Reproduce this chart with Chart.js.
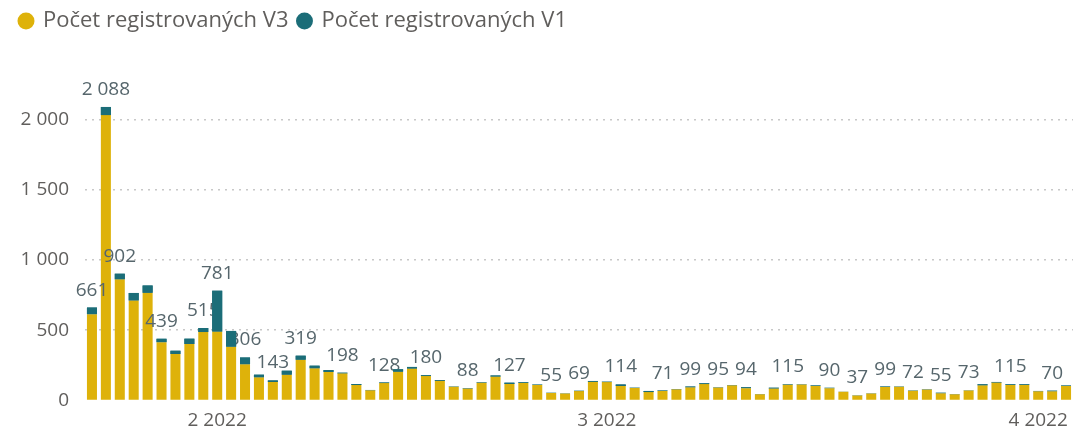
<!DOCTYPE html>
<html>
<head>
<meta charset="utf-8">
<script src="https://cdn.jsdelivr.net/npm/chart.js@4.4.1/dist/chart.umd.min.js"></script>
<style>
  html, body { margin: 0; padding: 0; background: #fff; }
  #wrap { width: 1073px; height: 431px; position: relative; }
</style>
</head>
<body>
<div id="wrap"><canvas id="chart"></canvas></div>
<script>
// dny (kategorie osy x)
const days = [
  '2022-01-23','2022-01-24','2022-01-25','2022-01-26','2022-01-27','2022-01-28','2022-01-29','2022-01-30','2022-01-31',
  '2022-02-01','2022-02-02','2022-02-03','2022-02-04','2022-02-05','2022-02-06','2022-02-07','2022-02-08','2022-02-09','2022-02-10',
  '2022-02-11','2022-02-12','2022-02-13','2022-02-14','2022-02-15','2022-02-16','2022-02-17','2022-02-18','2022-02-19','2022-02-20',
  '2022-02-21','2022-02-22','2022-02-23','2022-02-24','2022-02-25','2022-02-26','2022-02-27','2022-02-28',
  '2022-03-01','2022-03-02','2022-03-03','2022-03-04','2022-03-05','2022-03-06','2022-03-07','2022-03-08','2022-03-09','2022-03-10',
  '2022-03-11','2022-03-12','2022-03-13','2022-03-14','2022-03-15','2022-03-16','2022-03-17','2022-03-18','2022-03-19','2022-03-20',
  '2022-03-21','2022-03-22','2022-03-23','2022-03-24','2022-03-25','2022-03-26','2022-03-27','2022-03-28','2022-03-29','2022-03-30','2022-03-31',
  '2022-04-01','2022-04-02','2022-04-03'
];

// Počet registrovaných V3
const v3 = [
  614, 2030, 862, 712, 766, 415, 331, 402, 487,
  490, 383, 258, 165, 132, 184, 290, 229, 203, 193,
  110, 73, 124, 205, 227, 174, 140, 97, 85, 126,
  170, 118, 125, 111, 54, 50, 67, 133,
  131, 103, 89, 60, 68, 80, 94, 117, 93, 108,
  88, 45, 86, 112, 113, 103, 88, 62, 36, 50,
  96, 97, 70, 78, 52, 45, 72, 108, 128, 111, 111,
  66, 66, 104
];

// Počet registrovaných V1
const v1 = [
  47, 58, 40, 53, 52, 24, 23, 38, 28,
  291, 112, 48, 19, 11, 28, 29, 19, 14, 5,
  7, 2, 4, 17, 12, 6, 6, 2, 3, 3,
  8, 9, 4, 2, 1, 1, 2, 6,
  3, 11, 2, 8, 3, 2, 5, 5, 2, 2,
  6, 1, 5, 3, 2, 4, 2, 1, 1, 1,
  3, 2, 2, 2, 3, 1, 1, 7, 4, 4, 4,
  2, 4, 3
];

// sloupce, nad kterými je vidět popisek součtu (index do days)
const labelIdx = [0, 1, 2, 5, 8, 9, 11, 13, 15, 18, 21, 24, 27, 30, 33, 35, 38, 41, 43, 45, 47, 50, 53, 55, 57, 59, 61, 63, 66, 69];

// popisky os
const tickDays = ['2022-02-01', '2022-03-01', '2022-04-01'];
const tickLabels = ['2 2022', '3 2022', '4 2022'];
const yTicks = [0, 500, 1000, 1500, 2000];

const yellow = '#DEB20A';
const teal = '#1B6D78';
const grey = '#605E5C';

function fmt(n) {
  return String(n).replace(/\B(?=(\d{3})+(?!\d))/g, ' ');
}

// popisky součtů – kreslí se přes žluté sloupce, ale pod tyrkysové
const totalLabels = {
  id: 'totalLabels',
  afterDatasetsDraw(chart) {
    const ctx = chart.ctx;
    const meta = chart.getDatasetMeta(1);
    ctx.save();
    ctx.font = '19px "Open Sans"';
    ctx.fillStyle = '#56666C';
    ctx.textAlign = 'center';
    ctx.textBaseline = 'alphabetic';
    labelIdx.forEach(i => {
      const bar = meta.data[i];
      ctx.fillText(fmt(v3[i] + v1[i]), bar.x, bar.y - 12);
    });
    ctx.restore();
    meta.controller.draw();
  }
};

new Chart(document.getElementById('chart'), {
  type: 'bar',
  data: {
    labels: days,
    datasets: [
      { label: 'Počet registrovaných V3', data: v3, backgroundColor: yellow },
      { label: 'Počet registrovaných V1', data: v1, backgroundColor: teal }
    ]
  },
  options: {
    responsive: true,
    maintainAspectRatio: false,
    animation: false,
    layout: { padding: { left: 10, right: 0, top: 0, bottom: 0 } },
    datasets: { bar: { barPercentage: 0.72, categoryPercentage: 1.0, borderWidth: 0 } },
    plugins: {
      tooltip: { enabled: false },
      legend: {
        position: 'top',
        align: 'start',
        labels: {
          usePointStyle: true,
          pointStyle: 'circle',
          boxWidth: 12,
          boxHeight: 12,
          padding: 10,
          color: grey,
          font: { family: '"Open Sans"', size: 22 }
        }
      }
    },
    scales: {
      x: {
        stacked: true,
        grid: { display: false },
        border: { display: false },
        ticks: {
          autoSkip: false,
          maxRotation: 0,
          padding: 1,
          color: grey,
          font: { family: '"Open Sans"', size: 19 },
          callback: function (value, index) {
            const k = tickDays.indexOf(days[index]);
            return k >= 0 ? tickLabels[k] : '';
          }
        },
        afterFit: s => { s.height = 30.5; }
      },
      y: {
        stacked: true,
        min: 0,
        max: 2550,
        border: { display: false, dash: [2, 5] },
        grid: {
          drawTicks: false,
          color: c => c.tick.value === 0 ? 'rgba(0,0,0,0)' : '#C8C8C8',
          lineWidth: 1.5
        },
        ticks: {
          padding: 16,
          color: grey,
          font: { family: '"Open Sans"', size: 19 },
          callback: v => fmt(v)
        },
        afterBuildTicks: s => { s.ticks = yTicks.map(v => ({ value: v })); },
        afterFit: s => { s.width = 75; }
      }
    }
  },
  plugins: [totalLabels]
});
</script>
</body>
</html>
